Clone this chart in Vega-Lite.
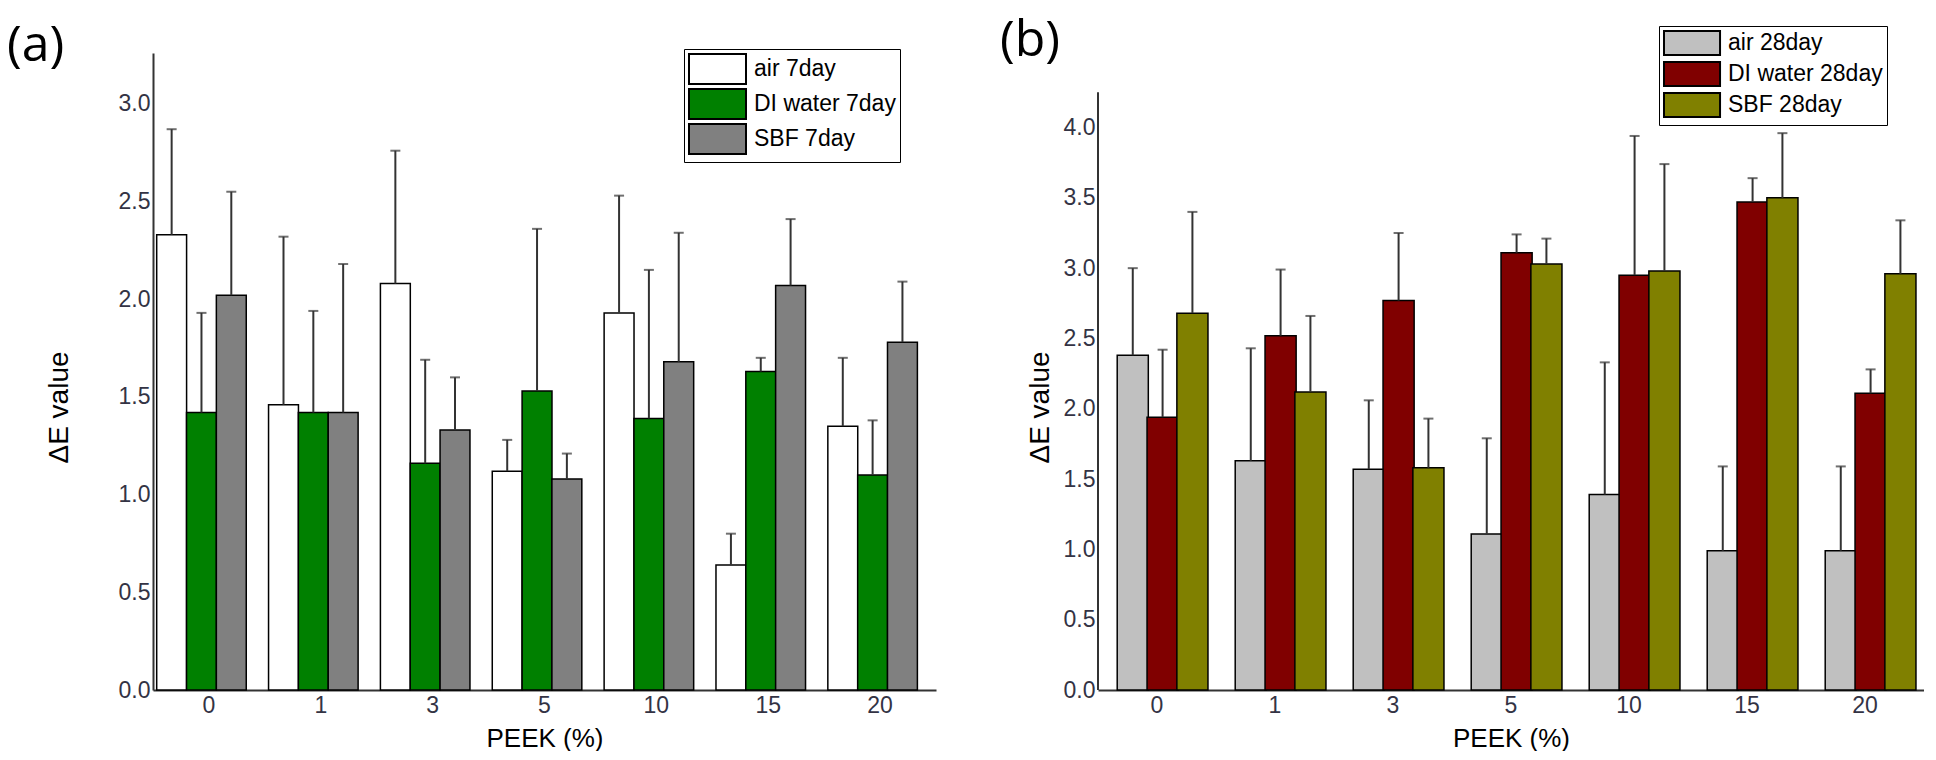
{
  "$schema": "https://vega.github.io/schema/vega-lite/v6.json",
  "background": "white",
  "padding": {"left": 7, "top": 15, "right": 0, "bottom": 0},
  "spacing": 64,
  "config": {
    "view": {"stroke": null},
    "font": "Liberation Sans",
    "axis": {
      "ticks": false,
      "grid": false,
      "domainColor": "#333333",
      "domainWidth": 2,
      "labelFont": "Liberation Sans",
      "labelFontSize": 23,
      "labelColor": "#333344",
      "titleFont": "Liberation Sans",
      "titleColor": "black",
      "titleFontWeight": "normal"
    },
    "legend": {
      "orient": "none",
      "title": null,
      "symbolStrokeColor": "black",
      "symbolStrokeWidth": 2,
      "symbolOpacity": 1,
      "labelFont": "Liberation Sans",
      "labelFontSize": 23,
      "labelColor": "black",
      "labelLimit": 300,
      "strokeColor": "black",
      "fillColor": "white",
      "padding": 4
    }
  },
  "datasets": {
    "a": [
      {"peek": "0", "series": "air 7day", "value": 2.33, "upper": 2.87},
      {"peek": "0", "series": "DI water 7day", "value": 1.42, "upper": 1.93},
      {"peek": "0", "series": "SBF 7day", "value": 2.02, "upper": 2.55},
      {"peek": "1", "series": "air 7day", "value": 1.46, "upper": 2.32},
      {"peek": "1", "series": "DI water 7day", "value": 1.42, "upper": 1.94},
      {"peek": "1", "series": "SBF 7day", "value": 1.42, "upper": 2.18},
      {"peek": "3", "series": "air 7day", "value": 2.08, "upper": 2.76},
      {"peek": "3", "series": "DI water 7day", "value": 1.16, "upper": 1.69},
      {"peek": "3", "series": "SBF 7day", "value": 1.33, "upper": 1.60},
      {"peek": "5", "series": "air 7day", "value": 1.12, "upper": 1.28},
      {"peek": "5", "series": "DI water 7day", "value": 1.53, "upper": 2.36},
      {"peek": "5", "series": "SBF 7day", "value": 1.08, "upper": 1.21},
      {"peek": "10", "series": "air 7day", "value": 1.93, "upper": 2.53},
      {"peek": "10", "series": "DI water 7day", "value": 1.39, "upper": 2.15},
      {"peek": "10", "series": "SBF 7day", "value": 1.68, "upper": 2.34},
      {"peek": "15", "series": "air 7day", "value": 0.64, "upper": 0.80},
      {"peek": "15", "series": "DI water 7day", "value": 1.63, "upper": 1.70},
      {"peek": "15", "series": "SBF 7day", "value": 2.07, "upper": 2.41},
      {"peek": "20", "series": "air 7day", "value": 1.35, "upper": 1.70},
      {"peek": "20", "series": "DI water 7day", "value": 1.10, "upper": 1.38},
      {"peek": "20", "series": "SBF 7day", "value": 1.78, "upper": 2.09}
    ],
    "b": [
      {"peek": "0", "series": "air 28day", "value": 2.38, "upper": 3.00},
      {"peek": "0", "series": "DI water 28day", "value": 1.94, "upper": 2.42},
      {"peek": "0", "series": "SBF 28day", "value": 2.68, "upper": 3.40},
      {"peek": "1", "series": "air 28day", "value": 1.63, "upper": 2.43},
      {"peek": "1", "series": "DI water 28day", "value": 2.52, "upper": 2.99},
      {"peek": "1", "series": "SBF 28day", "value": 2.12, "upper": 2.66},
      {"peek": "3", "series": "air 28day", "value": 1.57, "upper": 2.06},
      {"peek": "3", "series": "DI water 28day", "value": 2.77, "upper": 3.25},
      {"peek": "3", "series": "SBF 28day", "value": 1.58, "upper": 1.93},
      {"peek": "5", "series": "air 28day", "value": 1.11, "upper": 1.79},
      {"peek": "5", "series": "DI water 28day", "value": 3.11, "upper": 3.24},
      {"peek": "5", "series": "SBF 28day", "value": 3.03, "upper": 3.21},
      {"peek": "10", "series": "air 28day", "value": 1.39, "upper": 2.33},
      {"peek": "10", "series": "DI water 28day", "value": 2.95, "upper": 3.94},
      {"peek": "10", "series": "SBF 28day", "value": 2.98, "upper": 3.74},
      {"peek": "15", "series": "air 28day", "value": 0.99, "upper": 1.59},
      {"peek": "15", "series": "DI water 28day", "value": 3.47, "upper": 3.64},
      {"peek": "15", "series": "SBF 28day", "value": 3.50, "upper": 3.96},
      {"peek": "20", "series": "air 28day", "value": 0.99, "upper": 1.59},
      {"peek": "20", "series": "DI water 28day", "value": 2.11, "upper": 2.28},
      {"peek": "20", "series": "SBF 28day", "value": 2.96, "upper": 3.34}
    ],
    "baxis": [{"x": 0, "y": 0, "y2": 4.25}]
  },
  "hconcat": [
    {
      "width": 783,
      "height": 637,
      "title": {
        "text": "(a)",
        "anchor": "start",
        "frame": "group",
        "dx": -146,
        "dy": 62,
        "offset": 0,
        "baseline": "alphabetic",
        "font": "Open Sans",
        "fontSize": 50,
        "fontWeight": "normal",
        "color": "black"
      },
      "data": {"name": "a"},
      "encoding": {
        "x": {
          "field": "peek",
          "type": "ordinal",
          "sort": ["0", "1", "3", "5", "10", "15", "20"],
          "scale": {"paddingInner": 0.2, "paddingOuter": 0.1},
          "title": "PEEK (%)",
          "axis": {"labelAngle": 0, "labelPadding": 4, "titlePadding": 8, "titleFontSize": 26}
        },
        "xOffset": {
          "field": "series",
          "type": "nominal",
          "sort": ["air 7day", "DI water 7day", "SBF 7day"],
          "scale": {"paddingInner": 0, "paddingOuter": 0}
        }
      },
      "layer": [
        {
          "mark": {"type": "bar", "stroke": "black", "strokeWidth": 1.5, "width": 29.9},
          "encoding": {
            "y": {
              "field": "value",
              "type": "quantitative",
              "title": "ΔE value",
              "scale": {"domain": [0, 3.26], "nice": false},
              "axis": {
                "values": [0, 0.5, 1, 1.5, 2, 2.5, 3],
                "format": ".1f",
                "labelPadding": 3,
                "titleFontSize": 28,
                "titleAngle": 270,
                "titleAlign": "center",
                "titleBaseline": "alphabetic",
                "titleX": -86,
                "titleY": 354
              }
            },
            "color": {
              "field": "series",
              "type": "nominal",
              "sort": ["air 7day", "DI water 7day", "SBF 7day"],
              "scale": {"domain": ["air 7day", "DI water 7day", "SBF 7day"], "range": ["#ffffff", "#008000", "#808080"]},
              "legend": {
                "legendX": 531,
                "legendY": -4,
                "symbolType": "M-1,-1H2.8V1H-1Z",
                "symbolSize": 900,
                "rowPadding": -6,
                "labelOffset": 34
              }
            }
          }
        },
        {
          "mark": {"type": "rule", "color": "#333333", "strokeWidth": 2},
          "encoding": {
            "y": {"field": "value", "type": "quantitative", "title": "ΔE value"},
            "y2": {"field": "upper"}
          }
        },
        {
          "mark": {"type": "tick", "color": "#333333", "size": 10, "thickness": 2},
          "encoding": {
            "y": {"field": "upper", "type": "quantitative", "title": "ΔE value"}
          }
        }
      ]
    },
    {
      "width": 826,
      "height": 637,
      "title": {
        "text": "(b)",
        "anchor": "start",
        "frame": "group",
        "dx": -98,
        "dy": 80,
        "offset": 0,
        "baseline": "alphabetic",
        "font": "Open Sans",
        "fontSize": 50,
        "fontWeight": "normal",
        "color": "black"
      },
      "layer": [
        {
          "data": {"name": "b"},
          "encoding": {
            "x": {
              "field": "peek",
              "type": "ordinal",
              "sort": ["0", "1", "3", "5", "10", "15", "20"],
              "scale": {"paddingInner": 0.21, "paddingOuter": 0.105},
              "title": "PEEK (%)",
              "axis": {"labelAngle": 0, "labelPadding": 4, "titlePadding": 8, "titleFontSize": 26}
            },
            "xOffset": {
              "field": "series",
              "type": "nominal",
              "sort": ["air 28day", "DI water 28day", "SBF 28day"],
              "scale": {"paddingInner": 0, "paddingOuter": 0}
            }
          },
          "layer": [
            {
              "mark": {"type": "bar", "stroke": "black", "strokeWidth": 1.5, "width": 31.1},
              "encoding": {
                "y": {
                  "field": "value",
                  "type": "quantitative",
                  "title": "ΔE value",
                  "scale": {"domain": [0, 4.53], "nice": false},
                  "axis": {
                    "values": [0, 0.5, 1, 1.5, 2, 2.5, 3, 3.5, 4],
                    "format": ".1f",
                    "domain": false,
                    "labelPadding": 3,
                    "titleFontSize": 28,
                    "titleAngle": 270,
                    "titleAlign": "center",
                    "titleBaseline": "alphabetic",
                    "titleX": -50,
                    "titleY": 354
                  }
                },
                "color": {
                  "field": "series",
                  "type": "nominal",
                  "sort": ["air 28day", "DI water 28day", "SBF 28day"],
                  "scale": {"domain": ["air 28day", "DI water 28day", "SBF 28day"], "range": ["#c0c0c0", "#800000", "#808000"]},
                  "legend": {
                    "legendX": 561,
                    "legendY": -27,
                    "symbolType": "M-1,-1H3.67V1H-1Z",
                    "symbolSize": 576,
                    "rowPadding": -1,
                    "labelOffset": 39
                  }
                }
              }
            },
            {
              "mark": {"type": "rule", "color": "#333333", "strokeWidth": 2},
              "encoding": {
                "y": {"field": "value", "type": "quantitative", "title": "ΔE value"},
                "y2": {"field": "upper"}
              }
            },
            {
              "mark": {"type": "tick", "color": "#333333", "size": 10, "thickness": 2},
              "encoding": {
                "y": {"field": "upper", "type": "quantitative", "title": "ΔE value"}
              }
            }
          ]
        },
        {
          "data": {"name": "baxis"},
          "mark": {"type": "rule", "color": "#333333", "strokeWidth": 2},
          "encoding": {
            "x": {"field": "x", "type": "quantitative", "scale": {"domain": [0, 1]}, "axis": null},
            "y": {"field": "y", "type": "quantitative"},
            "y2": {"field": "y2"}
          }
        }
      ],
      "resolve": {"scale": {"x": "independent"}}
    }
  ],
  "resolve": {"scale": {"color": "independent", "y": "independent", "x": "independent"}, "legend": {"color": "independent"}}
}
